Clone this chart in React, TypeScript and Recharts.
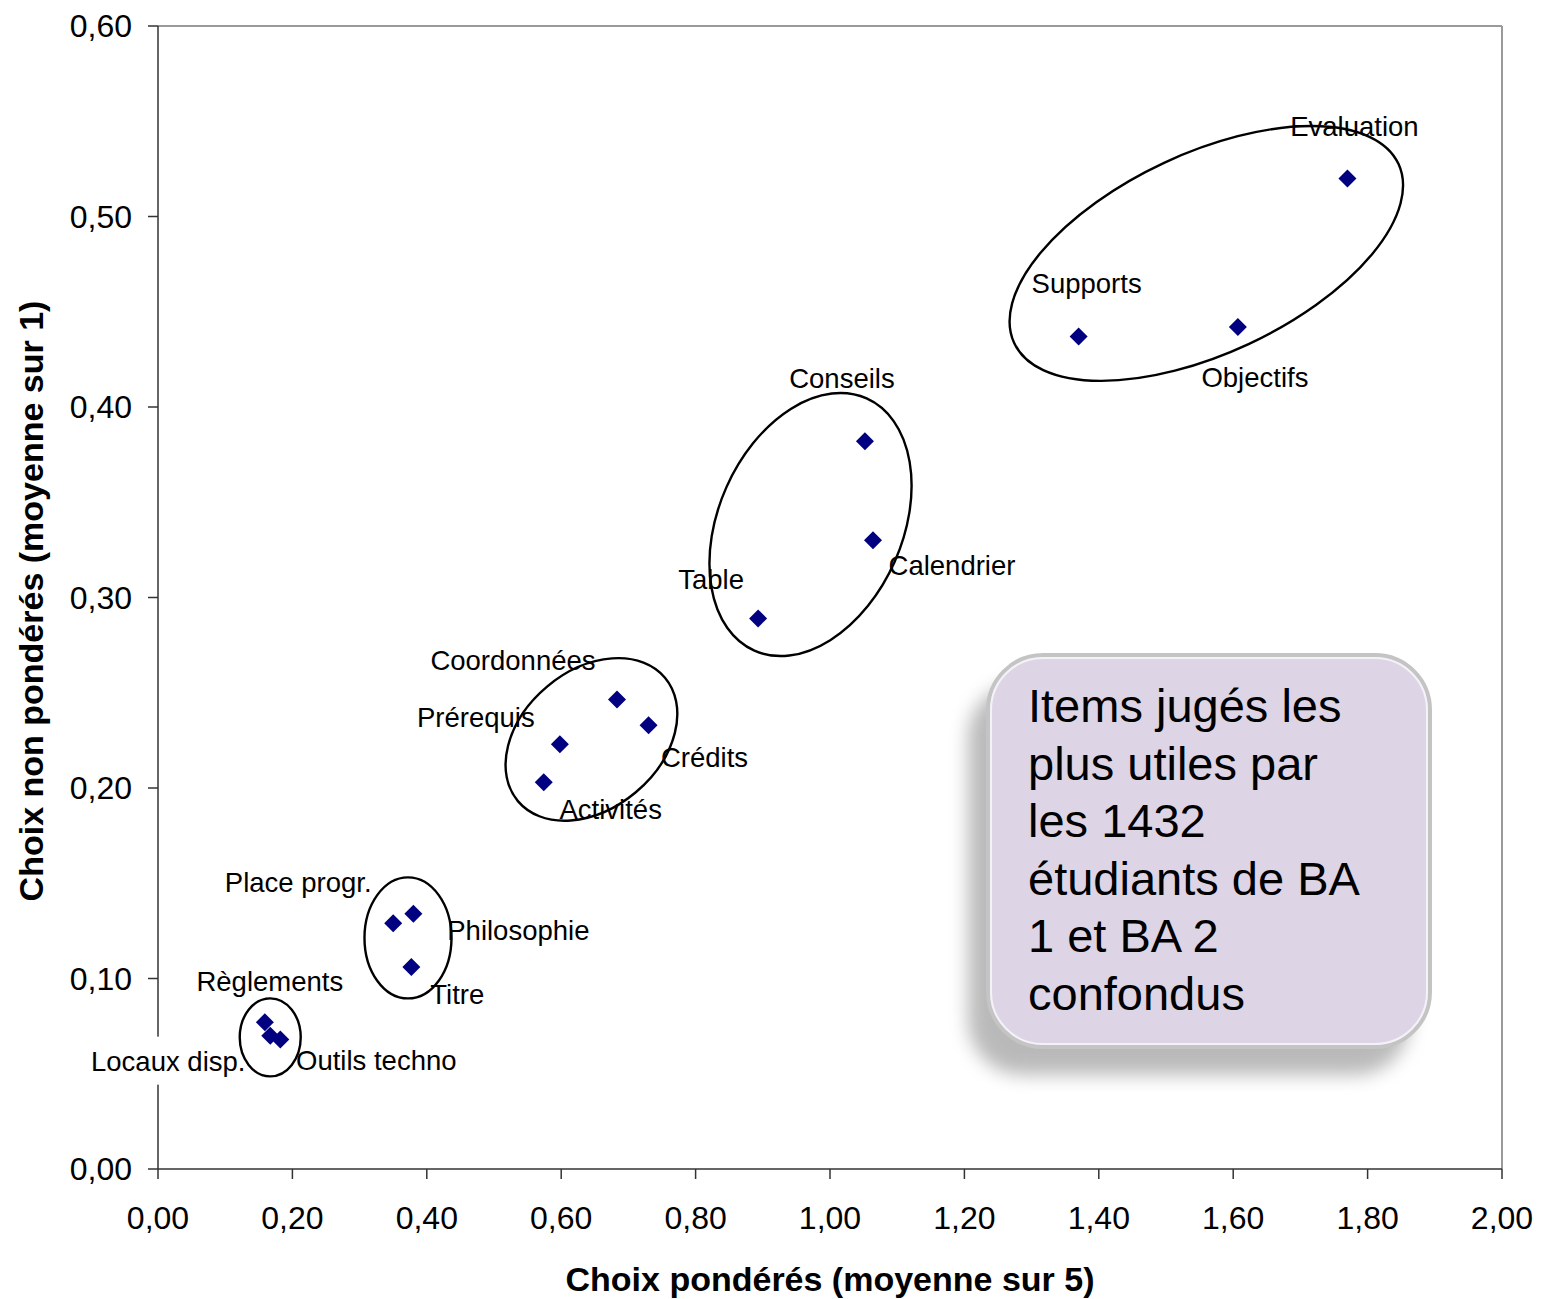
import React from 'react';
import {
  ScatterChart,
  Scatter,
  XAxis,
  YAxis,
  ReferenceLine,
  Label,
  Customized,
} from 'recharts';

const FONT = '"Liberation Sans", Arial, sans-serif';

const itemNames = [
  'Evaluation',
  'Objectifs',
  'Supports',
  'Conseils',
  'Calendrier',
  'Table',
  'Coordonnées',
  'Crédits',
  'Prérequis',
  'Activités',
  'Place progr.',
  'Philosophie',
  'Titre',
  'Règlements',
  'Locaux disp.',
  'Outils techno',
];
const weightedChoice = [
  1.77, 1.607, 1.37, 1.052, 1.064, 0.893, 0.683, 0.73, 0.598, 0.574, 0.35, 0.38,
  0.377, 0.159, 0.167, 0.182,
];
const unweightedChoice = [
  0.52, 0.442, 0.437, 0.382, 0.33, 0.289, 0.2465, 0.233, 0.223, 0.203, 0.129,
  0.134, 0.106, 0.077, 0.07, 0.068,
];

const xTicks = [0, 0.2, 0.4, 0.6, 0.8, 1.0, 1.2, 1.4, 1.6, 1.8, 2.0];
const yTicks = [0, 0.1, 0.2, 0.3, 0.4, 0.5, 0.6];

// where each data label sits relative to its point (px, centre of text)
const labelOffsets: Record<string, [number, number]> = {
  Evaluation: [7, -52],
  Objectifs: [17, 50],
  Supports: [8, -54],
  Conseils: [-23, -63],
  Calendrier: [79, 25],
  Table: [-47, -39],
  Coordonnées: [-104, -39],
  Crédits: [56, 32],
  Prérequis: [-84, -27],
  Activités: [67, 27],
  'Place progr.': [-95, -41],
  Philosophie: [105, 16],
  Titre: [46, 27],
  Règlements: [5, -41],
  'Locaux disp.': [-102, 25],
  'Outils techno': [96, 21],
};

// hand-drawn circles around groups of items
const groupCentreX = [1.56, 0.971, 0.645, 0.372, 0.167];
const groupCentreY = [0.4806, 0.3383, 0.2255, 0.1213, 0.0691];
const groupOutline = [
  { rx: 212, ry: 100, angle: -25 },
  { rx: 138, ry: 92, angle: -66 },
  { rx: 96, ry: 69, angle: -40 },
  { rx: 43.5, ry: 60.5, angle: 0 },
  { rx: 30.5, ry: 39, angle: 0 },
];

const noteLines = [
  'Items jugés les',
  'plus utiles par',
  'les 1432',
  'étudiants de BA',
  '1 et BA 2',
  'confondus',
];

const points = itemNames.map((name, i) => ({
  name,
  x: weightedChoice[i],
  y: unweightedChoice[i],
}));

const groups = groupCentreX.map((x, i) => ({ x, y: groupCentreY[i], ...groupOutline[i] }));

const fmt = (v: number) => v.toFixed(2).replace('.', ',');

let measureCtx: CanvasRenderingContext2D | null = null;
const textWidth = (t: string, font: string) => {
  if (!measureCtx) measureCtx = document.createElement('canvas').getContext('2d');
  if (!measureCtx) return t.length * 15;
  measureCtx.font = font;
  return measureCtx.measureText(t).width;
};

const Diamond = (props: any) => {
  const { cx, cy } = props;
  const h = 9;
  return (
    <path
      d={`M${cx},${cy - h}L${cx + h},${cy}L${cx},${cy + h}L${cx - h},${cy}Z`}
      fill="#000080"
    />
  );
};

const PointLabel = (props: any) => {
  const { cx, cy } = props;
  const p = props.payload ?? props;
  const [dx, dy] = labelOffsets[p.name] ?? [0, -30];
  const size = 27.5;
  const w = textWidth(p.name, `${size}px ${FONT}`);
  const x = cx + dx;
  const y = cy + dy;
  return (
    <g>
      <rect x={x - w / 2 - 3} y={y - 24} width={w + 6} height={48} fill="#fff" />
      <text x={x} y={y + 10} textAnchor="middle" fontSize={size} fontFamily={FONT} fill="#000">
        {p.name}
      </text>
    </g>
  );
};

const GroupOutline = (props: any) => {
  const { cx, cy } = props;
  const p = props.payload ?? props;
  return (
    <ellipse
      cx={cx}
      cy={cy}
      rx={p.rx}
      ry={p.ry}
      transform={`rotate(${p.angle} ${cx} ${cy})`}
      fill="none"
      stroke="#000"
      strokeWidth={2.4}
    />
  );
};

const NoteBox = () => {
  const x = 988;
  const y = 655;
  const w = 442;
  const h = 392;
  return (
    <g>
      <defs>
        <filter id="noteShadow" x="-20%" y="-20%" width="140%" height="140%">
          <feGaussianBlur stdDeviation="9" />
        </filter>
      </defs>
      <rect x={x - 20} y={y + 28} width={w} height={h} rx={55} fill="#8c8c8c" opacity={0.6} filter="url(#noteShadow)" />
      <rect x={x} y={y} width={w} height={h} rx={55} fill="#ddd5e6" stroke="#c4c4c4" strokeWidth={4} />
      <rect x={x + 3} y={y + 3} width={w - 6} height={h - 6} rx={52} fill="none" stroke="#f4f2f7" strokeWidth={2} />
      {noteLines.map((line, i) => (
        <text key={line} x={1028} y={722 + i * 57.5} fontSize={47} fontFamily={FONT} fill="#000">
          {line}
        </text>
      ))}
    </g>
  );
};

const XTitle = (props: any) => {
  const vb = props.viewBox ?? { x: 158, y: 1169, width: 1344, height: 130 };
  return (
    <text x={vb.x + vb.width / 2} y={vb.y + 122} textAnchor="middle" fontSize={34} fontWeight="bold" fontFamily={FONT} fill="#000">
      Choix pondérés (moyenne sur 5)
    </text>
  );
};

const YTitle = () => (
  <text x={43} y={601} transform="rotate(-90 43 601)" textAnchor="middle" fontSize={34} fontWeight="bold" fontFamily={FONT} fill="#000">
    Choix non pondérés (moyenne sur 1)
  </text>
);

const tickStyle = { fontSize: 32, fontFamily: FONT, fill: '#000' };

export default function App() {
  return (
    <div style={{ position: 'absolute', left: 0, top: 0, background: '#fff' }}>
      <ScatterChart width={1542} height={1299} margin={{ top: 26, right: 40, bottom: 0, left: 0 }}>
        <ReferenceLine y={0.6} stroke="#9a9a9a" strokeWidth={2} />
        <ReferenceLine x={2} stroke="#9a9a9a" strokeWidth={2} />
        <XAxis
          type="number"
          dataKey="x"
          domain={[0, 2]}
          ticks={xTicks}
          tickFormatter={fmt}
          height={130}
          tickSize={10}
          tickMargin={27}
          tick={tickStyle}
          axisLine={{ stroke: '#333', strokeWidth: 1.5 }}
          tickLine={{ stroke: '#333', strokeWidth: 1.5 }}
          interval={0}
        >
          <Label content={<XTitle />} />
        </XAxis>
        <YAxis
          type="number"
          dataKey="y"
          domain={[0, 0.6]}
          ticks={yTicks}
          tickFormatter={fmt}
          width={158}
          tickSize={10}
          tickMargin={16}
          tick={tickStyle}
          axisLine={{ stroke: '#333', strokeWidth: 1.5 }}
          tickLine={{ stroke: '#333', strokeWidth: 1.5 }}
          interval={0}
        >
          <Label content={<YTitle />} />
        </YAxis>
        <Scatter data={points} shape={<Diamond />} isAnimationActive={false} />
        <Scatter data={points} shape={<PointLabel />} isAnimationActive={false} />
        <Scatter data={groups} shape={<GroupOutline />} isAnimationActive={false} />
        <Customized component={<NoteBox />} />
      </ScatterChart>
    </div>
  );
}
